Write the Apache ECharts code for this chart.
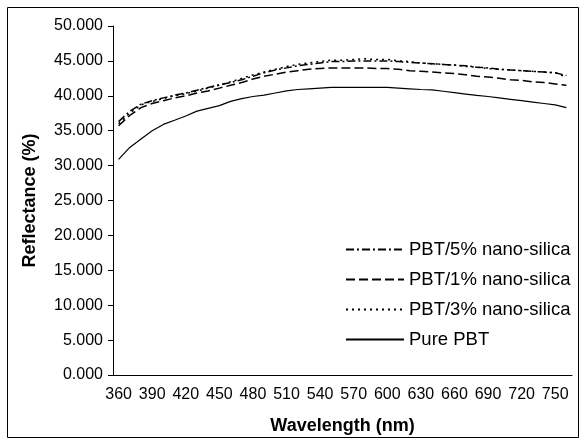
<!DOCTYPE html>
<html>
<head>
<meta charset="utf-8">
<title>Reflectance</title>
<script src="https://cdn.jsdelivr.net/npm/echarts@6/dist/echarts.min.js"></script>
<style>
  html, body { margin: 0; padding: 0; background: #fff; }
  #chart { width: 586px; height: 445px; }
</style>
</head>
<body>
<div id="chart"></div>
<script>
// wavelength categories, 360..760 nm (last one is unlabeled)
const wavelengths = [360, 370, 380, 390, 400, 410, 420, 430, 440, 450,
  460, 470, 480, 490, 500, 510, 520, 530, 540, 550,
  560, 570, 580, 590, 600, 610, 620, 630, 640, 650,
  660, 670, 680, 690, 700, 710, 720, 730, 740, 750, 760];

const silica5 = [36.3, 37.8, 38.8, 39.3, 39.7, 40.1, 40.4, 40.8, 41.2, 41.6,
  41.9, 42.3, 42.8, 43.3, 43.7, 44.0, 44.3, 44.5, 44.7, 44.9,
  44.9, 45.0, 45.0, 45.0, 45.0, 44.9, 44.8, 44.7, 44.6, 44.5,
  44.4, 44.3, 44.1, 44.0, 43.8, 43.7, 43.6, 43.5, 43.4, 43.3, 42.9];

const silica1 = [35.7, 37.2, 38.3, 38.9, 39.3, 39.7, 40.0, 40.4, 40.7, 41.1,
  41.5, 41.9, 42.4, 42.8, 43.1, 43.4, 43.6, 43.8, 43.9, 44.0,
  44.0, 44.0, 44.0, 43.9, 43.9, 43.8, 43.6, 43.5, 43.4, 43.3,
  43.2, 43.0, 42.8, 42.7, 42.5, 42.3, 42.2, 42.0, 41.9, 41.7, 41.5];

const silica3 = [36.0, 37.5, 38.7, 39.2, 39.6, 40.0, 40.3, 40.7, 41.1, 41.5,
  42.0, 42.5, 43.0, 43.4, 43.8, 44.2, 44.5, 44.7, 44.9, 45.1,
  45.1, 45.2, 45.3, 45.2, 45.2, 45.0, 44.9, 44.7, 44.6, 44.5,
  44.4, 44.2, 44.1, 43.9, 43.8, 43.7, 43.6, 43.5, 43.4, 43.3, 42.7];

const purePBT = [30.9, 32.6, 33.8, 35.0, 35.9, 36.5, 37.1, 37.8, 38.2, 38.6,
  39.2, 39.6, 39.9, 40.1, 40.4, 40.7, 40.9, 41.0, 41.1, 41.2,
  41.2, 41.2, 41.2, 41.2, 41.2, 41.1, 41.0, 40.9, 40.85, 40.65,
  40.45, 40.25, 40.05, 39.9, 39.7, 39.5, 39.3, 39.1, 38.9, 38.7, 38.3];

const seriesNames = ['PBT/5% nano-silica', 'PBT/1% nano-silica', 'PBT/3% nano-silica', 'Pure PBT'];

const font = 'Liberation Sans, Arial, sans-serif';

function lineSeries(name, data, type, width) {
  return {
    name: name,
    type: 'line',
    data: data,
    symbol: 'none',
    smooth: false,
    itemStyle: { color: '#000' },
    lineStyle: { color: '#000', width: width, type: type }
  };
}

const myChart = echarts.init(document.getElementById('chart'));

const option = {
  animation: false,
  backgroundColor: '#fff',
  grid: { left: 113, right: 14, top: 26, bottom: 70, containLabel: false },
  graphic: [{
    type: 'rect',
    shape: { x: 7.5, y: 7.5, width: 571, height: 430 },
    style: { fill: 'none', stroke: '#000', lineWidth: 1 },
    silent: true
  }],
  legend: {
    orient: 'vertical',
    left: 345,
    top: 240,
    itemWidth: 58,
    itemHeight: 14,
    itemGap: 11,
    padding: 0,
    data: seriesNames,
    itemStyle: { opacity: 0 },
    textStyle: { fontFamily: font, fontSize: 18.5, color: '#000' }
  },
  xAxis: {
    type: 'category',
    data: wavelengths,
    boundaryGap: true,
    name: 'Wavelength (nm)',
    nameLocation: 'middle',
    nameGap: 42,
    nameTextStyle: { fontFamily: font, fontSize: 18, fontWeight: 'bold', color: '#000' },
    axisLine: { lineStyle: { color: '#000', width: 1 } },
    axisTick: { interval: 0, length: 5, lineStyle: { color: '#000' } },
    axisLabel: { interval: 2, margin: 12, fontFamily: font, fontSize: 16, color: '#000' },
    splitLine: { show: false }
  },
  yAxis: {
    type: 'value',
    min: 0,
    max: 50,
    interval: 5,
    name: 'Reflectance (%)',
    nameLocation: 'middle',
    nameGap: 74,
    nameTextStyle: { fontFamily: font, fontSize: 18, fontWeight: 'bold', color: '#000' },
    axisLine: { show: true, lineStyle: { color: '#000', width: 1 } },
    axisTick: { show: true, length: 5, lineStyle: { color: '#000' } },
    axisLabel: {
      margin: 10, fontFamily: font, fontSize: 16, color: '#000',
      formatter: function (v) { return v.toFixed(3); }
    },
    splitLine: { show: false }
  },
  series: [
    lineSeries(seriesNames[0], silica5, [8, 3, 2, 3], 1.5),
    lineSeries(seriesNames[1], silica1, [9, 4], 1.5),
    lineSeries(seriesNames[2], silica3, [2, 4], 1.5),
    lineSeries(seriesNames[3], purePBT, 'solid', 1.2)
  ]
};

myChart.setOption(option);
</script>
</body>
</html>
